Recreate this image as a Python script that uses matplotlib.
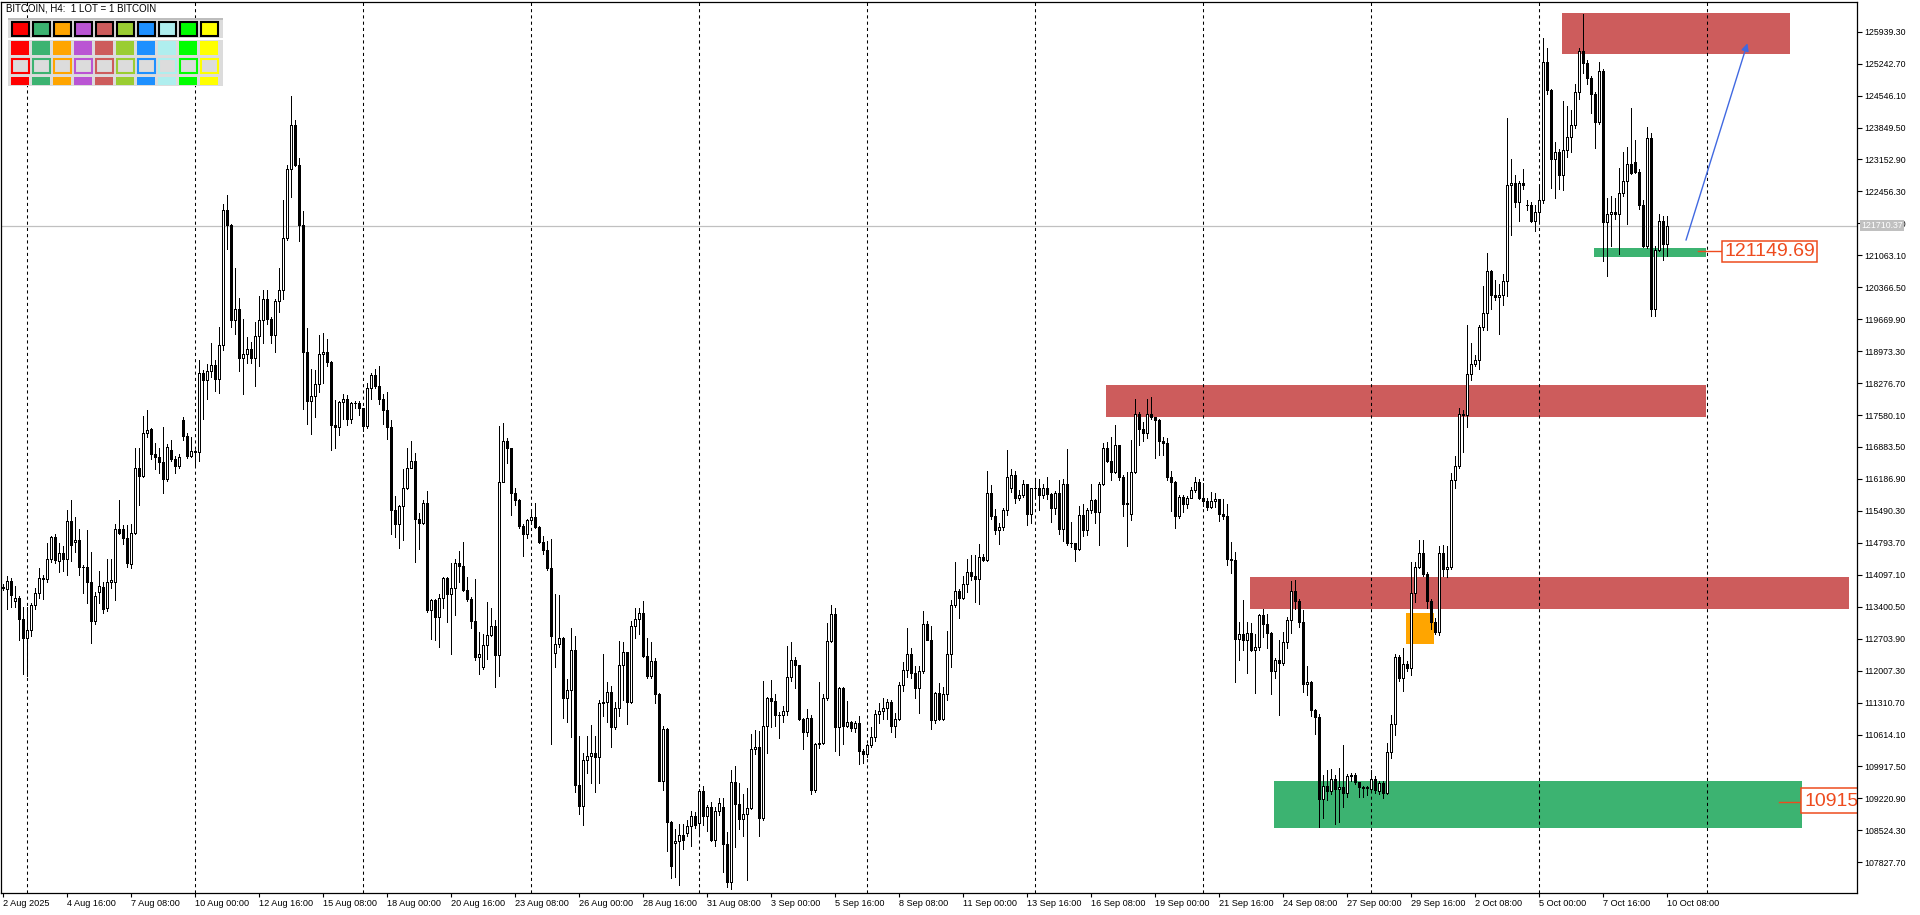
import numpy as np
import matplotlib
matplotlib.use("Agg")
import matplotlib.pyplot as plt
from matplotlib.patches import Rectangle
from matplotlib.collections import PatchCollection

plt.rcParams['font.family'] = ['Liberation Sans', 'DejaVu Sans']

# BITCOIN H4 candles, 2 Aug 2025 00:00 .. 10 Oct 2025 08:00 (one bar = 4h)
opens = [
    113810, 113790, 113960, 113520, 113600, 113140, 112720, 112890, 113430, 113690,
    114020, 114010, 114440, 114910, 114400, 114580, 114440, 115270, 114810, 114860,
    114270, 114260, 113940, 113100, 113730, 113830, 113380, 113940, 113940, 115100,
    115100, 114900, 114330, 115000, 116420, 116250, 117190, 117280, 116730, 116670,
    116550, 116190, 116820, 116630, 116470, 117480, 117130, 116690, 116800, 116780,
    118500, 118340, 118530, 118680, 118360, 119110, 122060, 121730, 119660, 119890,
    118820, 118920, 119020, 118820, 119310, 119660, 120120, 119670, 119320, 120070,
    120310, 121430, 122950, 123900, 123040, 121730, 118950, 117890, 117990, 118250,
    118920, 118950, 118740, 117360, 117320, 117860, 117940, 117490, 117840, 117850,
    117740, 117340, 118180, 118460, 118220, 117920, 117690, 117330, 115510, 115200,
    115600, 116000, 116430, 116580, 115320, 115220, 115660, 113320, 113550, 113170,
    113590, 114030, 113670, 113800, 114350, 114280, 113760, 113570, 113090, 112300,
    112080, 112560, 112790, 112970, 112340, 116130, 117010, 116860, 115890, 115730,
    115160, 114980, 115290, 115350, 115130, 114810, 114630, 114250, 112400, 112590,
    112710, 111400, 111580, 112460, 109510, 109060, 110060, 110140, 110210, 110120,
    111300, 111320, 111550, 110770, 111200, 112130, 112410, 111320, 112970, 113140,
    113270, 112320, 111880, 112210, 111500, 109600, 110740, 108700, 108250, 108290,
    108430, 108460, 108610, 108830, 108680, 109390, 108830, 109030, 108320, 108940,
    109040, 108220, 107390, 109580, 109100, 108780, 108870, 109020, 110300, 110350,
    108800, 110790, 111420, 111340, 111030, 111050, 111120, 111870, 112240, 112120,
    110960, 110670, 110980, 109410, 110400, 110430, 111420, 112650, 113250, 110780,
    111630, 110810, 110880, 110760, 110860, 110250, 110190, 110380, 110570, 111070,
    111120, 111200, 111320, 110810, 110960, 111690, 112030, 112380, 111950, 111630,
    112000, 113020, 112680, 110940, 111520, 110960, 111500, 112380, 113430, 113740,
    113580, 113890, 114160, 114080, 114010, 114480, 114410, 115870, 115370, 115080,
    115130, 115520, 116000, 116280, 115780, 115830, 116070, 115420, 115980, 116000,
    115830, 116000, 115850, 115560, 115870, 115100, 116080, 114790, 114780, 114670,
    115390, 115080, 115520, 115720, 115470, 116080, 116870, 116580, 116340, 116920,
    116230, 115650, 115420, 116340, 117610, 117280, 117180, 117610, 117540, 117470,
    117020, 116970, 116220, 116120, 115370, 115790, 115650, 115780, 115950, 116120,
    115780, 115710, 115580, 115710, 115740, 115420, 115370, 114450, 114430, 112700,
    112810, 112680, 112830, 112460, 112520, 113210, 113020, 112830, 112000, 112240,
    112170, 112630, 113120, 113740, 113520, 113070, 111720, 111760, 111150, 110990,
    109210, 109500, 109380, 109650, 109430, 109460, 109340, 109720, 109730, 109570,
    109460, 109450, 109420, 109640, 109380, 109550, 109340, 110240, 110840, 112300,
    111840, 112150, 112070, 113690, 114260, 114570, 114110, 113530, 113070, 112840,
    114570, 114230, 114260, 116160, 116460, 117610, 117580, 118470, 118700, 118770,
    119510, 119810, 120730, 120200, 120150, 120200, 120500, 122600, 122630, 122230,
    122630, 122170, 122160, 121820, 122000, 122260, 125280, 124660, 123160, 123320,
    122810, 123350, 123640, 123900, 124620, 125510, 125260, 124930, 124590, 123960,
    125080, 121790, 121970, 122000, 121970, 122430, 122690, 123060, 123090, 122890,
    122160, 121270, 123620, 119890, 121190, 121820, 121310,
]
highs = [
    113890, 114060, 114020, 113850, 113640, 113390, 113390, 113480, 113810, 114250,
    114100, 114800, 114940, 114980, 114800, 114730, 115520, 115720, 115360, 115100,
    114310, 115080, 114600, 113730, 114190, 113940, 114440, 114440, 115210, 115720,
    115190, 115190, 115210, 116860, 116860, 117550, 117690, 117300, 116980, 116860,
    117320, 116940, 117030, 116690, 116730, 117530, 117190, 117110, 116820, 118780,
    118570, 118700, 119160, 118780, 119490, 122180, 122370, 121740, 120780, 120140,
    119670, 119280, 119170, 119610, 120170, 120310, 120310, 119720, 120120, 120780,
    122260, 123040, 124540, 124020, 123180, 122040, 119470, 118590, 118570, 119320,
    119360, 119240, 118750, 117900, 117880, 118030, 118010, 117860, 117890, 117890,
    117740, 118270, 118500, 118580, 118650, 118050, 118080, 117480, 115820, 115620,
    116400, 116860, 117020, 116760, 115450, 115720, 115920, 113570, 113570, 113670,
    114050, 114050, 114350, 114440, 114610, 114820, 114050, 113610, 114000, 112840,
    112810, 113500, 113380, 113120, 117340, 117400, 117080, 116860, 115980, 115740,
    115200, 115320, 115510, 115660, 115160, 114940, 114840, 114880, 113670, 113650,
    112740, 111830, 112930, 112760, 110590, 110210, 110590, 110820, 110580, 111370,
    112380, 111750, 111680, 111330, 112660, 112640, 112420, 113090, 113370, 113380,
    113520, 112710, 112640, 112280, 111520, 110800, 110760, 108720, 108560, 108670,
    108670, 108740, 108940, 108920, 109430, 109500, 109070, 109140, 109030, 109230,
    109230, 108480, 109840, 109920, 109550, 109320, 109450, 110620, 110720, 110700,
    111790, 111440, 111810, 111490, 111100, 111230, 112540, 112630, 112300, 112140,
    110980, 111180, 111030, 110430, 111760, 111490, 113050, 113430, 113380, 111650,
    111640, 111340, 110900, 110900, 111010, 110300, 110410, 110780, 111140, 111300,
    111420, 111390, 111370, 111080, 111760, 112190, 112940, 112490, 112100, 112100,
    113310, 113090, 112970, 111540, 111740, 111650, 112870, 113550, 114380, 113790,
    114060, 114450, 114520, 114520, 114760, 114540, 116360, 116050, 115540, 115230,
    115560, 116810, 116410, 116360, 115940, 116160, 116080, 116000, 116160, 116190,
    116080, 116230, 115880, 115920, 116160, 116190, 116830, 115250, 114800, 115590,
    115630, 115560, 116070, 115740, 116120, 116970, 116990, 117100, 117360, 116930,
    116270, 116340, 117030, 117920, 117650, 117430, 117920, 117980, 117540, 117500,
    117100, 117070, 116360, 116140, 115830, 115830, 115810, 116010, 116220, 116190,
    116100, 115780, 115900, 115870, 115760, 115740, 115630, 114810, 114590, 113070,
    113550, 113070, 113040, 112810, 113250, 113360, 113250, 112850, 112290, 112670,
    112850, 113180, 113960, 113990, 113570, 113320, 112100, 111780, 111170, 111070,
    109740, 109840, 109870, 109740, 109890, 110380, 109760, 109780, 109780, 109580,
    109490, 109490, 109840, 109720, 109610, 109610, 110420, 111030, 112380, 112350,
    112500, 112210, 114380, 114380, 114860, 114860, 114150, 113570, 113150, 114720,
    114750, 114720, 116310, 116690, 117730, 117690, 119540, 119160, 118880, 119540,
    120390, 121120, 120750, 120520, 120430, 120660, 124050, 123160, 122810, 122690,
    122950, 122260, 122230, 122160, 122580, 125810, 125580, 124700, 123530, 123390,
    124430, 124310, 124240, 124800, 125580, 126320, 125320, 124970, 124620, 125280,
    125120, 122310, 122350, 122310, 122970, 123320, 123430, 124280, 123580, 122950,
    122260, 123870, 123730, 121270, 121970, 121910, 121930,
]
lows = [
    113770, 113350, 113390, 113390, 112680, 111930, 111890, 112770, 113350, 113580,
    113560, 113940, 114380, 114350, 114160, 114190, 114100, 114400, 114600, 114100,
    113690, 113480, 112620, 113020, 113480, 113270, 113310, 113810, 113540, 114980,
    114770, 114270, 114250, 114980, 115610, 116230, 117110, 116630, 116400, 116320,
    115880, 116150, 116580, 116320, 116420, 117030, 116650, 116670, 116440, 116570,
    117500, 117920, 118420, 118110, 118070, 118990, 121200, 119510, 119340, 118530,
    118050, 118720, 118720, 118220, 118640, 119150, 119570, 119150, 118950, 119820,
    120120, 121390, 122340, 123010, 121370, 117720, 117390, 117170, 117530, 118090,
    118280, 118650, 116820, 116860, 117150, 117500, 117360, 117400, 117740, 117590,
    117230, 117290, 117930, 118180, 117820, 117390, 117060, 114990, 114910, 114690,
    114860, 115970, 116420, 114370, 114660, 115200, 113290, 112700, 112680, 112530,
    113380, 113060, 112360, 113230, 113950, 113750, 113530, 112940, 112240, 111930,
    112050, 112260, 112760, 111650, 111880, 116110, 116530, 115410, 115620, 115110,
    114500, 114900, 115200, 115110, 114790, 114560, 114200, 110410, 112090, 112530,
    110970, 110890, 110560, 109350, 108870, 108640, 109780, 109550, 109360, 109550,
    111020, 110890, 110350, 110730, 111020, 111370, 110840, 111300, 112710, 112810,
    112300, 111850, 111850, 111300, 109590, 109400, 108070, 107480, 107500, 107340,
    108120, 108410, 108190, 108580, 108450, 108650, 108510, 108300, 108190, 108850,
    107610, 107280, 107250, 108170, 108560, 108410, 107440, 108990, 110190, 108410,
    108750, 110210, 110780, 110810, 110540, 110880, 111050, 111790, 111630, 110920,
    110300, 110590, 109320, 109360, 110320, 110410, 111370, 112630, 110250, 110160,
    110400, 110780, 110700, 110670, 109980, 109990, 110130, 110340, 110480, 110860,
    110960, 110960, 110670, 110560, 110920, 111560, 111870, 111850, 111420, 111080,
    111950, 112670, 110740, 110860, 110920, 110920, 111360, 112080, 113390, 113160,
    113560, 113720, 113990, 113500, 113450, 114400, 114400, 115320, 114980, 114760,
    115080, 115390, 115900, 115660, 115720, 115800, 115180, 115230, 115790, 115500,
    115780, 115760, 115250, 115420, 114980, 114830, 114740, 114700, 114400, 114640,
    114940, 114960, 115440, 115230, 114740, 116050, 116560, 116160, 116320, 116160,
    115370, 114720, 115300, 116320, 116920, 117010, 117070, 117500, 116650, 116700,
    116700, 116170, 115490, 115120, 115340, 115470, 115560, 115770, 115900, 115760,
    115590, 115520, 115560, 115570, 115280, 115320, 114300, 114140, 111760, 112240,
    112460, 111950, 112430, 111520, 112460, 112750, 112510, 111490, 111850, 111030,
    112140, 112500, 112830, 113340, 112960, 111540, 111470, 111010, 110630, 108590,
    108800, 109190, 109320, 108670, 108700, 109030, 109260, 109610, 109530, 109260,
    109260, 109300, 109380, 109340, 109320, 109230, 109320, 110100, 110610, 111770,
    111570, 112000, 111920, 113500, 114250, 114080, 113380, 112920, 112810, 112780,
    114080, 114050, 114230, 116000, 116420, 116770, 117310, 118350, 118650, 118580,
    119430, 119430, 119890, 120080, 119340, 119970, 120180, 121500, 122120, 121820,
    122510, 122050, 121790, 121590, 121820, 122200, 124590, 122540, 122310, 122510,
    122490, 123200, 123320, 123850, 124470, 125030, 124800, 124160, 123410, 123930,
    120930, 120620, 121270, 121850, 121100, 122350, 121740, 122830, 122860, 122080,
    121240, 121220, 119740, 119740, 121160, 120960, 121040,
]
closes = [
    113830, 113960, 113660, 113600, 113140, 112720, 112890, 113430, 113690, 114020,
    114010, 114440, 114910, 114410, 114580, 114440, 115270, 114750, 114860, 114270,
    114260, 113940, 113080, 113640, 113850, 113350, 113940, 113980, 115100, 115000,
    114900, 114350, 115000, 116420, 116250, 117190, 117260, 116730, 116670, 116550,
    116190, 116880, 116630, 116470, 116670, 117130, 116690, 116800, 116780, 118500,
    118340, 118530, 118680, 118360, 119110, 122060, 121730, 119660, 119890, 118820,
    118920, 119020, 118820, 119310, 119660, 120120, 119670, 119320, 120070, 120310,
    121430, 122950, 123900, 123040, 121730, 118950, 117890, 117990, 118250, 118920,
    118950, 118740, 117360, 117320, 117860, 117940, 117490, 117840, 117850, 117740,
    117340, 118180, 118460, 118220, 117920, 117690, 117330, 115510, 115200, 115600,
    116000, 116430, 116580, 115320, 115220, 115660, 113320, 113550, 113170, 113590,
    114030, 113670, 113800, 114350, 114280, 113760, 113570, 113090, 112300, 112380,
    112560, 112790, 112970, 112340, 116130, 117010, 116860, 115890, 115730, 115160,
    114980, 115290, 115350, 115130, 114810, 114630, 114250, 112760, 112590, 112710,
    111400, 111580, 112460, 109510, 109060, 110060, 110140, 110210, 110120, 111300,
    111320, 111550, 110770, 111200, 112130, 112410, 111320, 112970, 113140, 113270,
    112320, 111880, 112210, 111500, 109600, 110740, 108700, 107750, 108290, 108430,
    108320, 108610, 108830, 108650, 109390, 108830, 109030, 108320, 108940, 109120,
    108220, 107390, 109580, 109100, 108780, 108870, 109020, 110300, 110350, 108800,
    110790, 111420, 111340, 111030, 111050, 111120, 111870, 112240, 112120, 110960,
    110670, 110980, 109410, 110400, 110430, 111420, 112650, 113250, 110780, 111630,
    110810, 110880, 110760, 110860, 110250, 110190, 110380, 110570, 111070, 111120,
    111200, 111320, 110810, 110960, 111690, 112030, 112380, 111950, 111630, 112000,
    113020, 112680, 110940, 111520, 110960, 111500, 112380, 113430, 113740, 113580,
    113890, 114160, 114080, 114010, 114480, 114410, 115870, 115370, 115080, 115130,
    115520, 116230, 116280, 115780, 115830, 116070, 115420, 115980, 116000, 115830,
    116000, 115850, 115560, 115870, 115100, 116080, 114790, 114780, 114670, 115390,
    115080, 115520, 115720, 115470, 116080, 116870, 116580, 116340, 116920, 116230,
    115650, 115660, 116340, 117610, 117280, 117180, 117610, 117540, 117470, 117020,
    116970, 116220, 116120, 115370, 115790, 115650, 115780, 115950, 116120, 115780,
    115710, 115580, 115710, 115740, 115420, 115370, 114450, 114430, 112700, 112810,
    112680, 112830, 112460, 112520, 113210, 113020, 112830, 112000, 112240, 112170,
    112630, 113120, 113740, 113520, 113070, 111720, 111760, 111150, 110990, 109210,
    109500, 109380, 109650, 109430, 109460, 109340, 109720, 109730, 109570, 109460,
    109450, 109460, 109640, 109410, 109550, 109340, 110240, 110840, 112300, 111840,
    112150, 112070, 113690, 114260, 114570, 114110, 113530, 113070, 112840, 114570,
    114230, 114260, 116160, 116460, 117610, 117580, 118470, 118700, 118770, 119510,
    119810, 120730, 120200, 120150, 120200, 120500, 122600, 122630, 122230, 122630,
    122600, 122160, 121820, 122000, 122260, 125280, 124660, 123160, 123320, 122810,
    123350, 123640, 123900, 124620, 125510, 125260, 124930, 124590, 123960, 125080,
    121790, 121970, 122000, 121970, 122430, 122690, 123060, 122860, 122890, 122160,
    121270, 123620, 119890, 121190, 121820, 121310, 121710,
]

date_tick_bars = list(range(0, 417, 16))
date_tick_labels = [
    "2 Aug 2025", "4 Aug 16:00", "7 Aug 08:00", "10 Aug 00:00", "12 Aug 16:00",
    "15 Aug 08:00", "18 Aug 00:00", "20 Aug 16:00", "23 Aug 08:00", "26 Aug 00:00",
    "28 Aug 16:00", "31 Aug 08:00", "3 Sep 00:00", "5 Sep 16:00", "8 Sep 08:00",
    "11 Sep 00:00", "13 Sep 16:00", "16 Sep 08:00", "19 Sep 00:00", "21 Sep 16:00",
    "24 Sep 08:00", "27 Sep 00:00", "29 Sep 16:00", "2 Oct 08:00", "5 Oct 00:00",
    "7 Oct 16:00", "10 Oct 08:00",
]
week_sep_bars = list(range(6, 463, 42))
price_ticks = [107827.70 + 696.6 * k for k in range(27)]
bid_price = 121710.37

# zones: (first bar, last bar, low price, high price)
supply_zones = [(389.7, 446.75, 125453, 126354),
                (275.75, 425.7, 117541, 118235),
                (311.75, 461.6, 113349, 114041)]
demand_zones = [(317.75, 449.75, 108571, 109611),
                (397.75, 425.75, 121030, 121213)]
gap_zone = (350.85, 357.8, 112585, 113255)
target_arrow = ((420.75, 121394), (436.1, 125686))
# second label runs off the chart edge, only "10915" is visible
level_labels = [(121149.69, "121149.69"), (109152.90, "10915")]

palette = ['#FF0000', '#3CB371', '#FFA500', '#BA55D3', '#CD5C5C',
           '#9ACD32', '#1E90FF', '#AFEEEE', '#00FF00', '#FFFF00']

W, H = 1920, 915
fig = plt.figure(figsize=(W / 100, H / 100), dpi=100)
ax = fig.add_axes([1 / W, 22 / H, 1856 / W, 891 / H])
ax.set_xlim(-0.5, 463.5)
ax.set_ylim(107158, 126587)

o = np.array(opens, float)
hi = np.array(highs, float)
lo = np.array(lows, float)
c = np.array(closes, float)
x = np.arange(len(c))

# zones behind everything
for x0, x1, p0, p1 in supply_zones:
    ax.add_patch(Rectangle((x0, p0), x1 - x0, p1 - p0, fc='#CD5C5C', ec='none', zorder=1))
for x0, x1, p0, p1 in demand_zones:
    ax.add_patch(Rectangle((x0, p0), x1 - x0, p1 - p0, fc='#3CB371', ec='none', zorder=1))
gx0, gx1, gp0, gp1 = gap_zone
ax.add_patch(Rectangle((gx0, gp0), gx1 - gx0, gp1 - gp0, fc='#FFA500', ec='none', zorder=1))

for b in week_sep_bars:
    ax.axvline(b, color='black', lw=0.75, ls=(0, (3, 3)), zorder=2)
ax.axhline(bid_price, color='#C0C0C0', lw=0.9, zorder=2)

# candles: thin wicks, hollow bull bodies, filled bear bodies
ax.vlines(x, lo, hi, color='black', lw=0.7, zorder=3, antialiased=False)
up = c >= o
rects = [Rectangle((xi - 0.3, min(oo, cc)), 0.6, abs(cc - oo))
         for xi, oo, cc in zip(x, o, c)]
pc = PatchCollection(rects, facecolors=np.where(up, 'white', 'black'),
                     edgecolors='black', linewidths=0.6, zorder=4, antialiased=False)
ax.add_collection(pc)

# arrow to target
(ax0, ay0), (ax1, ay1) = target_arrow
ax.annotate('', xy=(ax1, ay1), xytext=(ax0, ay0),
            arrowprops=dict(arrowstyle='-|>', color='#4169E1', lw=1.0,
                            mutation_scale=11, shrinkA=0, shrinkB=0), zorder=5)

# price level labels
lab_col = '#EE4B1E'
(p1, t1), (p2, t2) = level_labels
ax.plot([423.75, 430], [p1, p1], color=lab_col, lw=1.0, zorder=5)
ax.text(430.3, p1, t1, fontsize=14, color=lab_col, ha='left', va='center',
        bbox=dict(boxstyle='square,pad=0.1', fc='white', ec=lab_col, lw=1.1), zorder=6)
ax.plot([443.9, 449.5], [p2, p2], color=lab_col, lw=1.0, zorder=5)
ax.add_patch(Rectangle((449.5, 108896), 30, 109441 - 108896, fc='white', ec=lab_col,
                       lw=1.1, zorder=6))
ax.text(450.4, p2, t2, fontsize=14, color=lab_col, ha='left', va='center',
        clip_on=True, zorder=7)

# axes styling
for s in ax.spines.values():
    s.set_color('black')
    s.set_linewidth(0.9)
    s.set_zorder(8)
ax.yaxis.tick_right()
ax.set_yticks(price_ticks)
ax.set_yticklabels([f"{v:.2f}" for v in price_ticks], fontsize=6.3)
ax.tick_params(axis='y', length=3.6, width=0.8, pad=1.5, direction='out')
ax.set_xticks(date_tick_bars)
ax.set_xticklabels(date_tick_labels, fontsize=6.6, ha='left')
ax.tick_params(axis='x', length=3, width=0.8, pad=1.5, direction='out')

ax.annotate(f"{bid_price:.2f}", xy=(1.0, bid_price), xycoords=('axes fraction', 'data'),
            xytext=(3, 0), textcoords='offset points', fontsize=6.3, color='white',
            va='center', ha='left', annotation_clip=False,
            bbox=dict(boxstyle='square,pad=0.12', fc='#C0C0C0', ec='none'))

# header text and colour panel (pixel overlay)
ov = fig.add_axes([0, 0, 1, 1])
ov.set_xlim(0, W)
ov.set_ylim(H, 0)
ov.axis('off')
ov.patch.set_alpha(0)
ov.text(6, 8.5, "BITCOIN, H4:  1 LOT = 1 BITCOIN", fontsize=7, va='center', ha='left')
ov.add_patch(Rectangle((8, 17.5), 215, 68, fc='#DCDCDC', ec='none'))
ov.add_patch(Rectangle((8, 17.5), 215, 2.5, fc='#BDBDBD', ec='none'))
ov.add_patch(Rectangle((8, 38), 215, 1.5, fc='white', ec='none'))
for k, col in enumerate(palette):
    x0 = 11.5 + 21 * k
    ov.add_patch(Rectangle((x0, 21.7), 17, 14.3, fc=col, ec='black', lw=1.5))
    ov.add_patch(Rectangle((x0 - 0.3, 40.7), 17.6, 14.3, fc=col, ec='none'))
    ov.add_patch(Rectangle((x0, 58.5), 17, 14, fc='#DCDCDC', ec=col, lw=1.5))
    ov.add_patch(Rectangle((x0 - 0.3, 76.7), 17.6, 8.3, fc=col, ec='none'))

fig.savefig("out.png", dpi=100)
